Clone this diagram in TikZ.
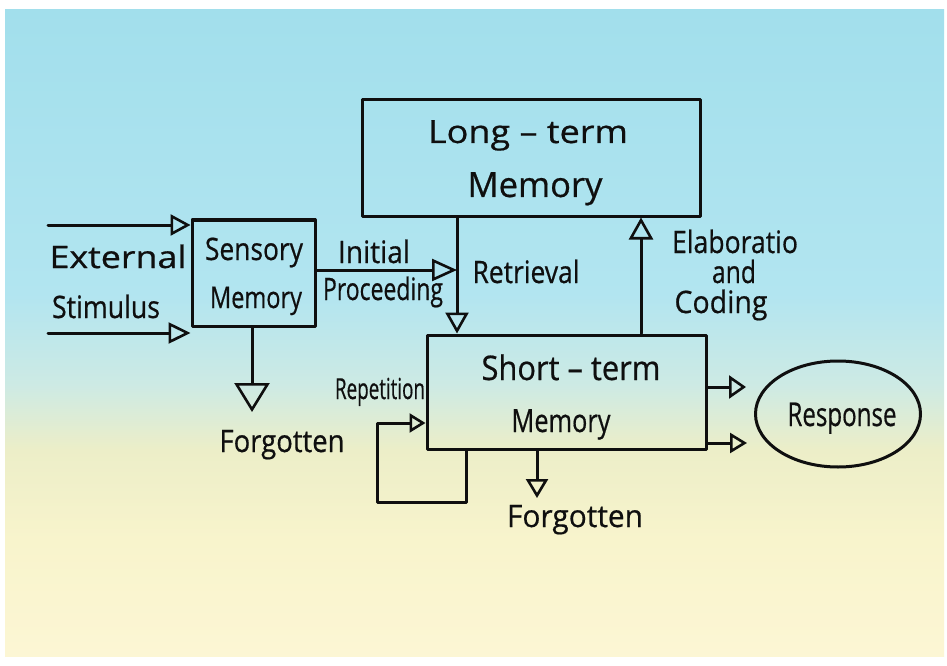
\documentclass[tikz,border=0pt]{standalone}
\usepackage{fontspec}
\setmainfont{Open Sans}[FakeBold=0.6]
\usetikzlibrary{arrows.meta,shapes.geometric}
\newcommand{\fitw}[2]{\resizebox{#1}{\height}{#2}}
\definecolor{bgA}{RGB}{162,223,236}
\definecolor{bgB}{RGB}{178,229,240}
\definecolor{bgC}{RGB}{205,234,228}
\definecolor{bgD}{RGB}{236,238,200}
\definecolor{bgE}{RGB}{248,244,204}
\definecolor{bgF}{RGB}{252,246,212}
\definecolor{ink}{RGB}{15,15,15}
\pgfdeclareverticalshading{paper}{100bp}{%
  color(0bp)=(bgF); color(25bp)=(bgF); color(34bp)=(bgE);
  color(41bp)=(bgD); color(46bp)=(bgC); color(53bp)=(bgB);
  color(75bp)=(bgA); color(100bp)=(bgA)}
\begin{document}
\begin{tikzpicture}[x=1bp,y=-1bp,
  ink line/.style={draw=ink,line width=3bp,line cap=round,line join=round},
  box/.style={ink line,rectangle,inner sep=0pt},
  lbl/.style={anchor=base,inner sep=0pt,text=ink,font=\fontsize{31}{33}\selectfont},
  tri/.style 2 args={ink line,-{Triangle[open,length=#1bp,width=#2bp,line width=2.6bp]}}
]
\useasboundingbox (0,0) rectangle (947,666);
\fill[white] (0,0) rectangle (947,666);
\shade[shading=paper] (5,10) rectangle (944,656);

% boxes
\node[box,minimum width=338bp,minimum height=116bp] (ltm) at (531,158) {};
\node[box,minimum width=123bp,minimum height=106bp] (sens) at (253.5,273) {};
\node[box,minimum width=279bp,minimum height=114bp] (stm) at (566.5,392) {};
\node[ink line,ellipse,minimum width=165bp,minimum height=106bp,inner sep=0pt] (resp) at (838,414) {};

% texts
\node[lbl,font=\fontsize{32}{34}\selectfont] (ltmA) at (528,143) {\fitw{200bp}{Long – term}};
\node[lbl,font=\fontsize{35}{37}\selectfont] (ltmB) at (535,197) {\fitw{135bp}{Memory}};
\node[lbl] (senA) at (254,260) {\fitw{98bp}{Sensory}};
\node[lbl,font=\fontsize{30}{32}\selectfont] (senB) at (256,308) {\fitw{92bp}{Memory}};
\node[lbl] (extA) at (118,268) {\fitw{137bp}{External}};
\node[lbl] (extB) at (106,318) {\fitw{108bp}{Stimulus}};
\node[lbl] (iniA) at (374,263) {\fitw{72bp}{Initial}};
\node[lbl] (iniB) at (383,300) {\fitw{120bp}{Proceeding}};
\node[lbl] (retr) at (526,283) {\fitw{107bp}{Retrieval}};
\node[lbl] (elaA) at (735,253) {\fitw{126bp}{Elaboratio}};
\node[lbl] (elaB) at (734,283) {\fitw{44bp}{and}};
\node[lbl] (elaC) at (721,313) {\fitw{93bp}{Coding}};
\node[lbl,font=\fontsize{34}{36}\selectfont] (stmA) at (571,380) {\fitw{179bp}{Short – term}};
\node[lbl,font=\fontsize{32}{34}\selectfont] (stmB) at (561,432) {\fitw{99bp}{Memory}};
\node[lbl,font=\fontsize{33}{35}\selectfont] (respT) at (842,426) {\fitw{109bp}{Response}};
\node[lbl] (forgA) at (282,452) {\fitw{125bp}{Forgotten}};
\node[lbl] (forgB) at (575,527) {\fitw{136bp}{Forgotten}};
\node[lbl,font=\fontsize{29}{31}\selectfont] (rep) at (380,399) {\fitw{90bp}{Repetition}};

% helper coordinates
\coordinate (e1) at (48,225);
\coordinate (e2) at (48,333);
\coordinate (ipy) at (0,270);
\coordinate (rx) at (457,0);
\coordinate (ex) at (641,0);
\coordinate (sf) at (252,412);
\coordinate (sf2) at (537,498);
\coordinate (r1) at (746,387);
\coordinate (r2) at (747,443);
\coordinate (lpr) at (466,0);
\coordinate (lpl) at (377,502);
\coordinate (rpy) at (0,423);

% connectors
\draw[tri={20}{21}] (e1) -- (e1 -| sens.west);
\draw[tri={22}{21}] (e2) -- (e2 -| sens.west);
\draw[tri={25}{22}] (sens.east |- ipy) -- (ipy -| rx);
\draw[tri={21}{23}] (ltm.south -| rx) -- (stm.north -| rx);
\draw[tri={22}{24}] (stm.north -| ex) -- (ltm.south -| ex);
\draw[tri={29}{35}] (sens.south -| sf) -- (sf);
\draw[tri={19}{22}] (stm.south -| sf2) -- (sf2);
\draw[tri={17}{23}] (stm.east |- r1) -- (r1);
\draw[tri={17}{20}] (stm.east |- r2) -- (r2);
\draw[tri={16}{19}] (stm.south -| lpr) |- (lpl) |- (stm.west |- rpy);
\end{tikzpicture}
\end{document}
